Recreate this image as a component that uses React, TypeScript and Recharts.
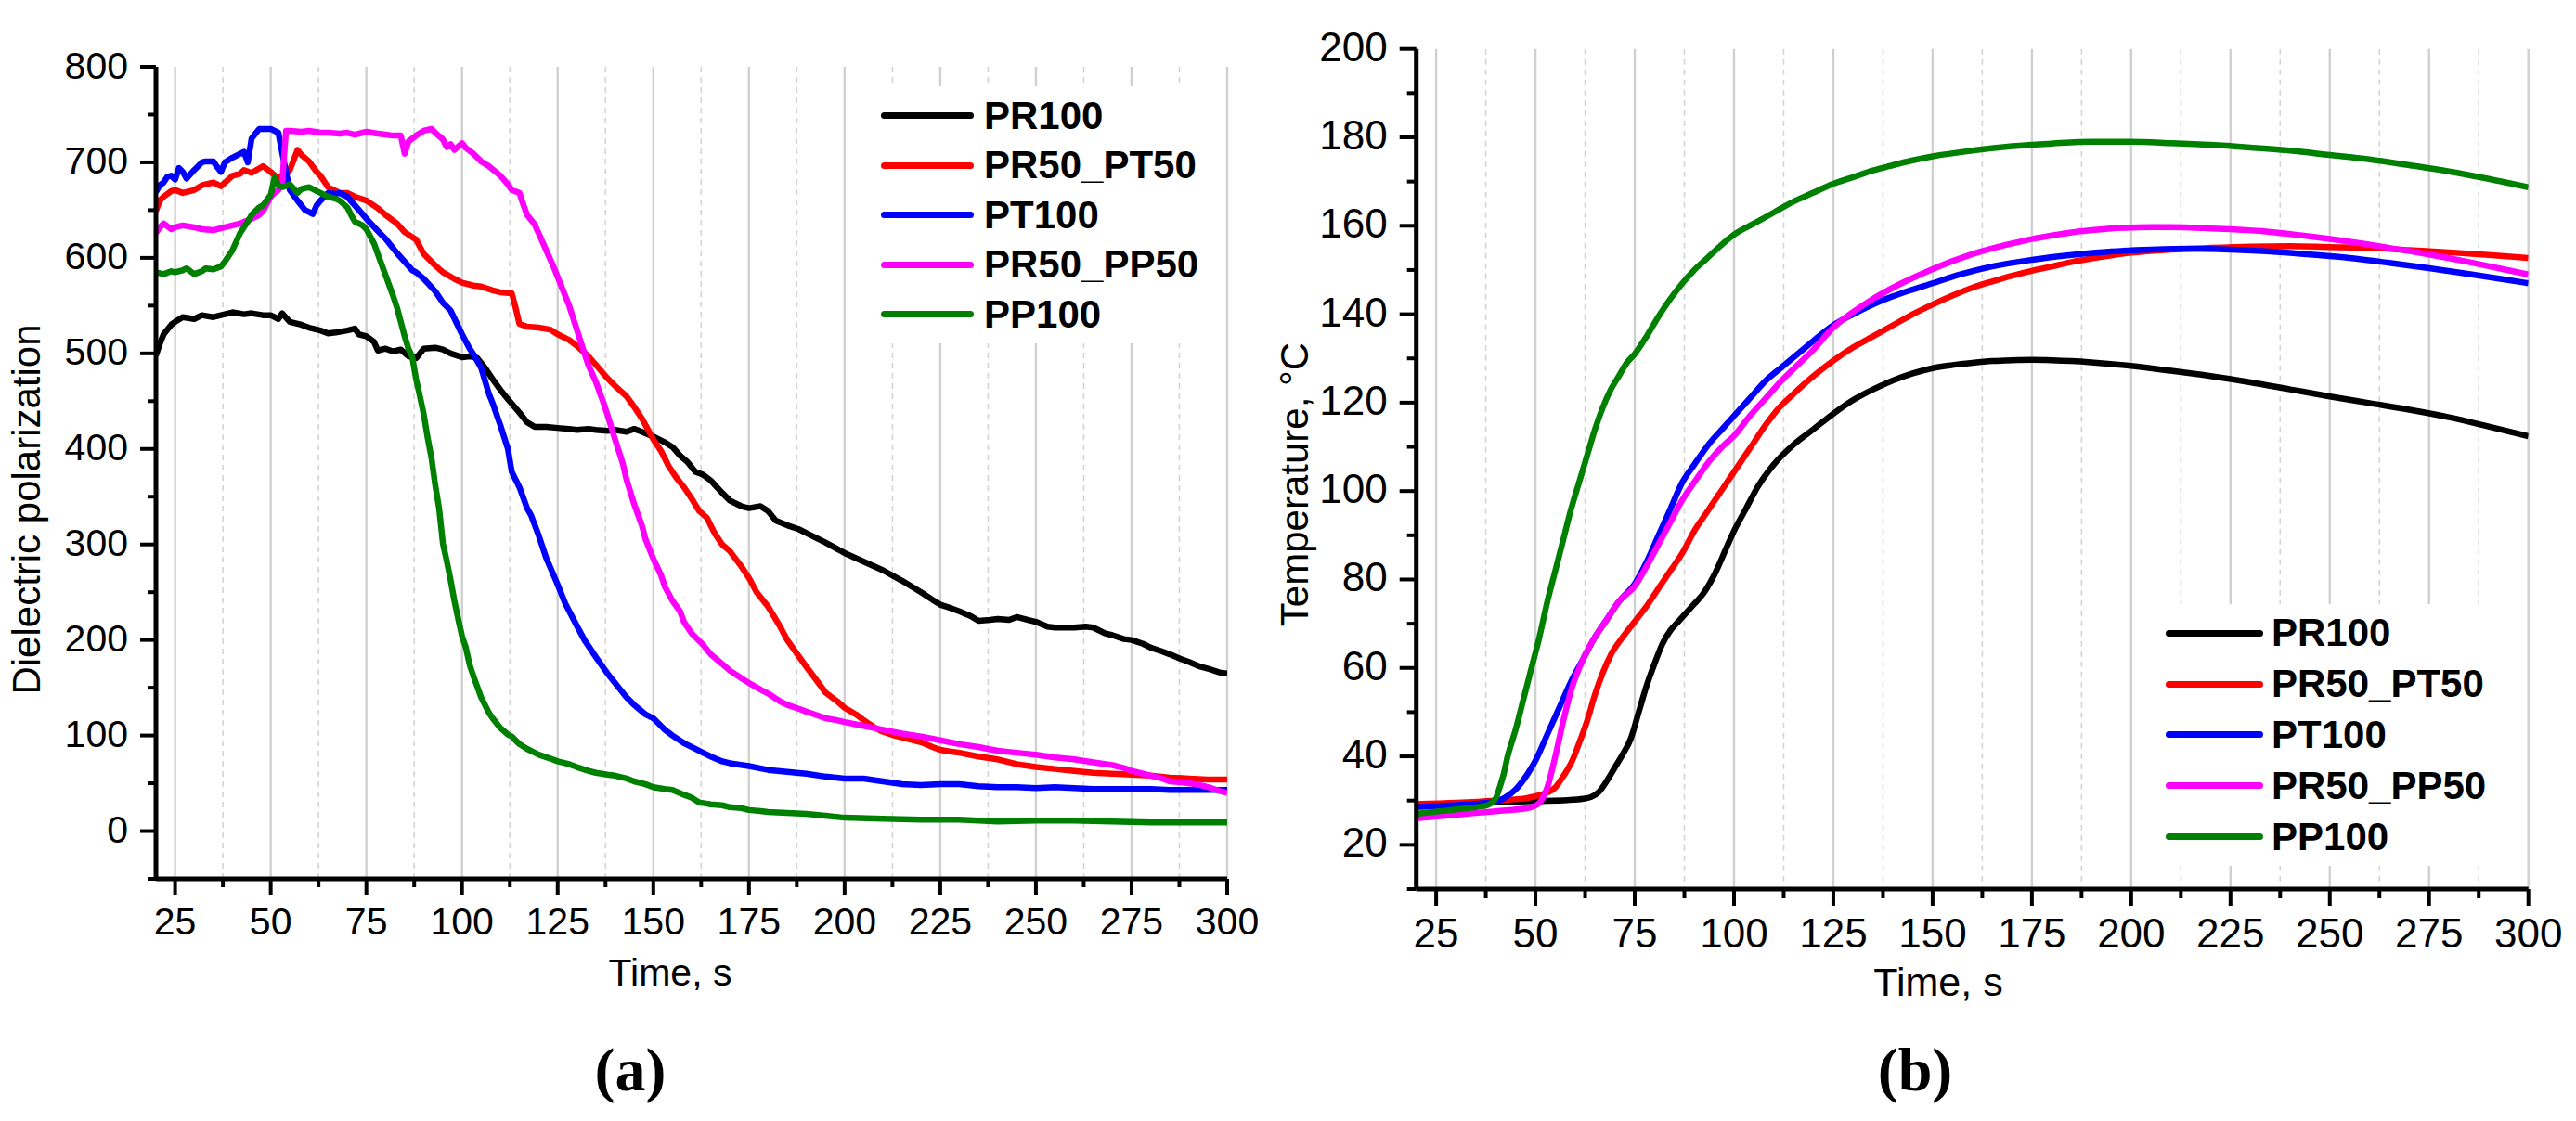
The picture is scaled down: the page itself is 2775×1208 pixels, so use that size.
import React from 'react';
import { LineChart, Line, XAxis, YAxis, CartesianGrid, Legend } from 'recharts';

// ---------- tick values ----------
const X_TICKS = [25, 37.5, 50, 62.5, 75, 87.5, 100, 112.5, 125, 137.5, 150, 162.5, 175, 187.5, 200, 212.5, 225, 237.5, 250, 262.5, 275, 287.5, 300];
const POL_TICKS = [-50, 0, 50, 100, 150, 200, 250, 300, 350, 400, 450, 500, 550, 600, 650, 700, 750, 800];
const TEMP_TICKS = [10, 20, 30, 40, 50, 60, 70, 80, 90, 100, 110, 120, 130, 140, 150, 160, 170, 180, 190, 200];

// ---------- series ----------
const SERIES_NAMES = ['PR100', 'PR50_PT50', 'PT100', 'PR50_PP50', 'PP100'];
const SERIES_COLORS = ['#000000', '#ff0000', '#0000ff', '#ff00ff', '#008000'];

// (a) dielectric polarization  [time s, value]
const POL_PR100: [number, number][] = [[20,498],[21,510],[22,520],[24,530],[25,533],[27,538],[30,536],[32,540],[35,538],[38,541],[40,543],[43,541],[45,542],[48,540],[50,540],[52,536],[53,542],[55,533],[58,530],[60,527],[63,524],[65,521],[67,522],[70,524],[72,526],[73,520],[75,518],[77,512],[78,503],[80,505],[82,502],[84,504],[86,497],[88,495],[90,505],[93,506],[95,504],[97,500],[100,496],[102,497],[104,495],[106,485],[108,473],[110,462],[112,452],[115,438],[117,428],[119,423],[122,423],[125,422],[128,421],[130,420],[133,421],[135,420],[138,419],[140,420],[143,418],[145,421],[147,418],[150,413],[153,407],[155,402],[157,393],[159,386],[161,376],[163,373],[165,367],[168,354],[170,346],[173,340],[175,338],[178,340],[180,335],[182,325],[185,320],[188,316],[190,312],[195,302],[200,291],[205,282],[210,273],[215,262],[220,250],[223,242],[225,237],[228,233],[230,230],[233,225],[235,220],[238,221],[240,222],[243,221],[245,224],[248,221],[250,219],[253,214],[255,213],[258,213],[260,213],[263,214],[265,213],[268,207],[270,205],[273,201],[275,200],[278,196],[280,192],[283,188],[285,185],[288,180],[290,177],[293,172],[295,170],[298,166],[300,165]];
const POL_PR50_PT50: [number, number][] = [[20,649],[21,660],[22,664],[24,670],[25,671],[27,668],[30,671],[32,676],[35,679],[37,675],[40,686],[42,688],[43,692],[45,689],[48,696],[50,690],[52,683],[53,686],[55,692],[57,713],[58,708],[60,701],[62,690],[63,686],[65,674],[68,668],[70,668],[72,664],[75,660],[78,652],[80,645],[83,636],[85,627],[88,619],[90,604],[93,592],[95,585],[98,578],[100,574],[103,571],[105,570],[108,566],[110,564],[113,563],[114,548],[115,531],[117,528],[120,527],[123,525],[125,520],[128,514],[130,508],[133,497],[135,488],[138,474],[140,466],[143,455],[145,444],[147,432],[150,410],[152,398],[154,382],[156,370],[158,360],[160,348],[162,335],[164,328],[166,312],[168,300],[170,293],[173,277],[175,265],[177,250],[180,235],[183,215],[185,200],[188,183],[190,172],[193,156],[195,145],[198,136],[200,129],[203,122],[205,116],[208,108],[210,104],[213,100],[215,98],[218,95],[220,93],[223,88],[225,85],[228,83],[230,82],[235,78],[240,75],[245,70],[250,67],[255,65],[260,63],[265,61],[270,60],[275,59],[280,58],[285,56],[290,55],[295,54],[300,54]];
const POL_PT100: [number, number][] = [[20,669],[21,676],[22,679],[23,685],[24,686],[25,682],[26,694],[27,690],[28,683],[30,692],[32,700],[33,701],[35,701],[36,695],[37,690],[38,700],[40,705],[42,709],[43,711],[44,700],[45,725],[46,730],[47,735],[49,735],[50,735],[52,731],[53,710],[54,690],[55,671],[57,660],[59,650],[61,646],[62,655],[63,660],[65,668],[67,667],[68,668],[70,664],[72,655],[75,641],[78,628],[80,620],[83,605],[85,596],[87,587],[88,585],[90,578],[93,565],[95,553],[97,545],[100,520],[102,505],[103,499],[105,485],[107,458],[108,448],[110,425],[112,400],[113,376],[115,360],[117,338],[118,331],[120,310],[122,286],[125,258],[127,238],[130,215],[132,200],[135,182],[138,165],[140,155],[143,140],[145,132],[148,122],[150,118],[153,106],[155,100],[158,92],[160,88],[163,82],[165,78],[168,73],[170,71],[175,68],[180,64],[185,62],[190,60],[195,57],[200,55],[205,55],[210,52],[215,49],[220,48],[225,49],[230,49],[235,47],[240,46],[245,46],[250,45],[255,46],[260,45],[265,44],[270,44],[275,44],[280,44],[285,43],[290,43],[295,43],[300,43]];
const POL_PR50_PP50: [number, number][] = [[20,626],[21,632],[22,636],[24,630],[25,632],[27,634],[30,632],[32,630],[35,629],[38,632],[40,634],[42,636],[45,641],[47,645],[48,649],[50,664],[51,668],[52,671],[53,679],[54,733],[55,733],[58,732],[60,733],[63,731],[65,731],[68,730],[70,731],[72,729],[75,732],[78,730],[80,729],[82,728],[84,728],[85,709],[86,722],[88,728],[90,733],[92,735],[93,731],[95,724],[96,716],[97,719],[98,713],[100,720],[101,715],[103,709],[105,701],[107,696],[110,686],[112,677],[113,671],[115,668],[116,656],[117,645],[119,635],[120,626],[122,608],[124,590],[125,580],[127,560],[128,550],[130,525],[132,500],[133,488],[135,470],[137,448],[138,436],[140,410],[142,385],[143,368],[145,342],[147,320],[148,305],[150,285],[152,268],[153,256],[155,241],[157,230],[158,219],[160,207],[163,195],[165,185],[168,175],[170,168],[173,160],[175,155],[178,148],[180,144],[183,136],[185,132],[188,128],[190,125],[193,121],[195,118],[198,116],[200,114],[205,110],[210,106],[215,102],[220,99],[225,95],[230,91],[235,88],[240,84],[245,82],[250,80],[255,77],[260,75],[265,72],[270,69],[273,66],[275,63],[278,60],[280,58],[283,55],[285,52],[288,51],[290,50],[293,48],[295,46],[298,42],[300,40]];
const POL_PP100: [number, number][] = [[20,585],[22,583],[24,586],[25,585],[27,587],[28,589],[30,583],[32,586],[33,589],[35,588],[37,591],[38,596],[40,608],[42,626],[44,638],[45,645],[47,653],[48,655],[50,666],[51,684],[52,676],[53,674],[55,677],[57,668],[58,672],[60,674],[62,670],[63,668],[65,664],[67,662],[68,660],[70,653],[71,645],[72,638],[74,634],[75,630],[77,615],[78,604],[80,582],[82,560],[83,548],[85,518],[86,505],[87,496],[88,473],[89,455],[90,436],[91,412],[92,391],[93,362],[94,338],[95,301],[96,283],[97,263],[98,241],[99,222],[100,204],[101,192],[102,174],[103,162],[104,151],[105,140],[106,132],[107,124],[108,118],[110,108],[112,101],[113,99],[115,91],[117,86],[120,80],[123,76],[125,73],[128,70],[130,67],[133,63],[135,61],[138,59],[140,58],[143,55],[145,52],[148,49],[150,46],[153,44],[155,43],[158,38],[160,35],[162,30],[165,28],[168,27],[170,25],[173,24],[175,22],[178,21],[180,20],[185,19],[190,18],[195,16],[200,14],[210,13],[220,12],[230,12],[240,10],[250,11],[260,11],[270,10],[280,9],[290,9],[300,9]];

// (b) temperature, °C  [time s, value]
const TEMP_PR100: [number, number][] = [[20,29],[30,29.3],[40,29.6],[50,29.9],[58,30.1],[62,30.4],[64,30.8],[66,32],[68,34.5],[70,37.5],[72,40.5],[74,44],[76,50],[78,56],[80,61],[82,65.5],[84,68.5],[86,70.5],[88,72.5],[90,74.5],[92,76.5],[95,81],[98,87],[100,91],[103,96],[106,101],[110,106],[115,110.5],[120,114],[125,117.5],[130,120.6],[135,123],[140,125],[145,126.6],[150,127.8],[155,128.5],[160,129],[165,129.4],[170,129.6],[175,129.7],[180,129.6],[185,129.4],[190,129.1],[200,128.3],[210,127.2],[220,126],[230,124.6],[240,123],[250,121.4],[260,119.9],[270,118.4],[280,116.7],[290,114.6],[300,112.4]];
const TEMP_PR50_PT50: [number, number][] = [[20,29.2],[30,29.5],[40,30],[48,30.6],[52,31.5],[55,33],[57,35.5],[59,38.5],[61,43],[63,48],[65,54],[67,59],[69,63],[72,67],[75,70.5],[78,74],[81,78],[84,82],[87,86],[90,91],[93,95],[96,99],[99,103],[102,107],[105,111],[108,115],[111,118.5],[115,122],[120,126],[125,129.5],[130,132.5],[135,135],[140,137.5],[145,140],[150,142.2],[155,144.2],[160,146],[165,147.4],[170,148.7],[175,149.8],[180,150.8],[185,151.8],[190,152.6],[195,153.3],[200,153.9],[210,154.6],[220,155],[230,155.3],[240,155.4],[250,155.2],[260,155],[270,154.5],[280,154],[290,153.4],[300,152.7]];
const TEMP_PT100: [number, number][] = [[20,28.5],[30,29],[38,29.5],[42,30.5],[45,32.5],[48,36],[50,39],[53,45],[56,51],[59,57],[62,62],[65,67],[68,71],[71,75],[75,79],[78,84],[81,90],[84,96],[87,102],[90,106],[94,111],[97,114],[100,117],[104,121],[108,125],[112,128],[116,131],[120,134],[125,137.5],[130,140],[137,143],[143,145],[150,147],[157,149],[165,150.8],[175,152.3],[185,153.4],[195,154.2],[205,154.6],[215,154.8],[225,154.6],[235,154.2],[245,153.5],[255,152.7],[265,151.6],[275,150.4],[285,149.1],[293,148],[300,147]];
const TEMP_PR50_PP50: [number, number][] = [[20,26],[30,26.8],[40,27.6],[48,28.3],[51,29.5],[53,33],[55,40],[57,48],[59,55],[62,62],[65,67],[68,71],[71,75],[75,78.5],[78,83],[81,88],[84,93],[87,98],[90,102],[94,107],[97,110],[100,112.5],[104,117],[108,121],[112,125],[116,128.5],[120,132],[125,137],[130,140.5],[135,143.5],[140,146],[145,148.2],[150,150.2],[155,152],[160,153.6],[165,154.9],[170,156],[175,157],[180,157.8],[185,158.5],[190,159],[195,159.4],[200,159.6],[205,159.7],[210,159.7],[215,159.6],[220,159.4],[225,159.2],[235,158.6],[245,157.6],[255,156.4],[265,155],[275,153.5],[285,151.8],[293,150.3],[300,149]];
const TEMP_PP100: [number, number][] = [[20,27],[25,27.5],[30,28],[35,28.5],[38,29],[40,30.5],[41,33],[42,36],[43,40],[45,46],[47,53],[49,60],[51,67],[53,75],[55,82],[57,89],[59,96],[61,102],[63,108],[65,114],[67,119],[69,123],[71,126],[73,129],[75,131],[78,135],[81,139.5],[84,143.5],[87,147],[90,150],[93,152.5],[96,155],[100,158],[105,160.5],[110,163],[115,165.5],[120,167.5],[125,169.5],[130,171],[135,172.5],[140,173.7],[145,174.8],[150,175.7],[160,177],[170,178],[180,178.6],[190,179],[200,179],[210,178.7],[220,178.3],[230,177.7],[240,177],[250,176],[260,175],[270,173.7],[280,172.3],[290,170.6],[300,168.7]];

const POL_SERIES = [POL_PR100, POL_PR50_PT50, POL_PT100, POL_PR50_PP50, POL_PP100];
const TEMP_SERIES = [TEMP_PR100, TEMP_PR50_PT50, TEMP_PT100, TEMP_PR50_PP50, TEMP_PP100];

const toRows = (pairs: [number, number][]) => pairs.map(([t, v]) => ({ t, v }));

const SANS = 'Liberation Sans, Arial, sans-serif';
const SERIF = 'Liberation Serif, Times New Roman, serif';

const B_LEFT = 1360; // page x of panel (b) container

const isMajor = (v: number, step: number) => Math.abs(v / step - Math.round(v / step)) < 1e-6;

const makeXTick = (step: number, majorLen: number, minorLen: number, fontSize: number, dy: number) => (p: any) => {
  const { x, y, payload } = p;
  const major = isMajor(payload.value, step);
  return (
    <g>
      <line x1={x} x2={x} y1={y} y2={y + (major ? majorLen : minorLen)} stroke="#000" strokeWidth={4} />
      {major && (
        <text x={x} y={y + dy} textAnchor="middle" fontSize={fontSize} fontFamily={SANS} fill="#000">
          {payload.value}
        </text>
      )}
    </g>
  );
};

const makeYTick = (step: number, majorLen: number, minorLen: number, fontSize: number, gap: number, dy: number) => (p: any) => {
  const { x, y, payload } = p;
  const major = isMajor(payload.value, step);
  return (
    <g>
      <line x1={x - (major ? majorLen : minorLen)} x2={x} y1={y} y2={y} stroke="#000" strokeWidth={4} />
      {major && (
        <text x={x - gap} y={y + dy} textAnchor="end" fontSize={fontSize} fontFamily={SANS} fill="#000">
          {payload.value}
        </text>
      )}
    </g>
  );
};

const gridLine = (p: any) => {
  const { x1, y1, x2, y2, index } = p;
  const major = (index ?? 0) % 2 === 0;
  return (
    <line
      key={`g-${index}-${x1}`}
      x1={x1}
      y1={y1}
      x2={x2}
      y2={y2}
      stroke={major ? '#d0d0d0' : '#d4d4d4'}
      strokeWidth={major ? 2.4 : 1.6}
      strokeDasharray={major ? undefined : '6 5'}
    />
  );
};

const makeLegend = (padLeft: number, lineLen: number, gap: number, rowH: number, padTop: number) => (props: any) => {
  const items = [...(props.payload || [])].sort(
    (a: any, b: any) => SERIES_NAMES.indexOf(a.value) - SERIES_NAMES.indexOf(b.value)
  );
  return (
    <div style={{ paddingTop: padTop }}>
      {items.map((it: any) => (
        <div key={it.value} style={{ height: rowH, display: 'flex', alignItems: 'center' }}>
          <div style={{ marginLeft: padLeft, width: lineLen, height: 7, borderRadius: 4, background: it.color }} />
          <span style={{ marginLeft: gap, fontWeight: 'bold', fontSize: 42, fontFamily: SANS, lineHeight: 1, color: '#000' }}>
            {it.value}
          </span>
        </div>
      ))}
    </div>
  );
};

const AXIS_LINE = { stroke: '#000', strokeWidth: 5 };

const PanelA = () => (
  <LineChart width={1380} height={1208} margin={{ top: 72, right: 58, bottom: 0, left: 0 }}>
    <CartesianGrid xAxisId="x" yAxisId="y" horizontal={false} vertical={gridLine} fill="none" />
    <XAxis
      xAxisId="x"
      dataKey="t"
      type="number"
      domain={[20, 300]}
      allowDataOverflow
      ticks={X_TICKS}
      interval={0}
      height={261}
      tickSize={0}
      tickMargin={0}
      tickLine={false}
      axisLine={AXIS_LINE}
      tick={makeXTick(25, 17, 9, 41, 60)}
      label={() => (
        <text x={722} y={1062} textAnchor="middle" fontSize={41} fontFamily={SANS} fill="#000">
          Time, s
        </text>
      )}
    />
    <XAxis xAxisId="top" orientation="top" type="number" domain={[20, 300]} height={0} tick={false} tickLine={false} axisLine={AXIS_LINE} />
    <YAxis
      yAxisId="y"
      type="number"
      domain={[-50, 800]}
      allowDataOverflow
      ticks={POL_TICKS}
      interval={0}
      width={168}
      tickSize={0}
      tickMargin={0}
      tickLine={false}
      axisLine={AXIS_LINE}
      tick={makeYTick(100, 17, 9, 41, 30, 12.5)}
      label={() => (
        <text x={43} y={549} transform="rotate(-90, 43, 549)" textAnchor="middle" fontSize={42} fontFamily={SANS} fill="#000">
          Dielectric polarization
        </text>
      )}
    />
    <YAxis yAxisId="right" orientation="right" type="number" domain={[-50, 800]} width={0} tick={false} tickLine={false} axisLine={AXIS_LINE} />
    {POL_SERIES.map((s, i) => (
      <Line
        key={SERIES_NAMES[i]}
        xAxisId="x"
        yAxisId="y"
        data={toRows(s)}
        dataKey="v"
        name={SERIES_NAMES[i]}
        type="linear"
        stroke={SERIES_COLORS[i]}
        strokeWidth={6.5}
        strokeLinejoin="round"
        dot={false}
        activeDot={false}
        isAnimationActive={false}
      />
    ))}
    <Legend
      layout="vertical"
      align="center"
      verticalAlign="middle"
      wrapperStyle={{ left: 935, top: 93, width: 384, height: 277, background: '#fff', margin: 0 }}
      content={makeLegend(14, 100, 11, 53.5, 5)}
    />
  </LineChart>
);

const PanelB = () => (
  <LineChart width={2775 - B_LEFT} height={1208} margin={{ top: 52.7, right: 51.3, bottom: 0, left: 0 }}>
    <CartesianGrid xAxisId="x" yAxisId="y" horizontal={false} vertical={gridLine} fill="none" />
    <XAxis
      xAxisId="x"
      dataKey="t"
      type="number"
      domain={[20, 300]}
      allowDataOverflow
      ticks={X_TICKS}
      interval={0}
      height={250}
      tickSize={0}
      tickMargin={0}
      tickLine={false}
      axisLine={AXIS_LINE}
      tick={makeXTick(25, 18, 10, 44, 63)}
      label={() => (
        <text x={2088 - B_LEFT} y={1073} textAnchor="middle" fontSize={43} fontFamily={SANS} fill="#000">
          Time, s
        </text>
      )}
    />
    <XAxis xAxisId="top" orientation="top" type="number" domain={[20, 300]} height={0} tick={false} tickLine={false} axisLine={AXIS_LINE} />
    <YAxis
      yAxisId="y"
      type="number"
      domain={[10, 200]}
      allowDataOverflow
      ticks={TEMP_TICKS}
      interval={0}
      width={1525.7 - B_LEFT}
      tickSize={0}
      tickMargin={0}
      tickLine={false}
      axisLine={AXIS_LINE}
      tick={makeYTick(20, 18, 10, 44, 31, 13)}
      label={() => (
        <text
          x={1409 - B_LEFT}
          y={522}
          transform={`rotate(-90, ${1409 - B_LEFT}, 522)`}
          textAnchor="middle"
          fontSize={42}
          fontFamily={SANS}
          fill="#000"
        >
          Temperature, °C
        </text>
      )}
    />
    <YAxis yAxisId="right" orientation="right" type="number" domain={[10, 200]} width={0} tick={false} tickLine={false} axisLine={AXIS_LINE} />
    {TEMP_SERIES.map((s, i) => (
      <Line
        key={SERIES_NAMES[i]}
        xAxisId="x"
        yAxisId="y"
        data={toRows(s)}
        dataKey="v"
        name={SERIES_NAMES[i]}
        type="monotone"
        stroke={SERIES_COLORS[i]}
        strokeWidth={6.5}
        strokeLinejoin="round"
        dot={false}
        activeDot={false}
        isAnimationActive={false}
      />
    ))}
    <Legend
      layout="vertical"
      align="center"
      verticalAlign="middle"
      wrapperStyle={{ left: 2320 - B_LEFT, top: 651, width: 400, height: 282, background: '#fff', margin: 0 }}
      content={makeLegend(13, 105, 9, 54.8, 4)}
    />
  </LineChart>
);

export default function App() {
  return (
    <div style={{ position: 'absolute', left: 0, top: 0, width: 2775, height: 1208, background: '#fff', overflow: 'hidden' }}>
      <div style={{ position: 'absolute', left: 0, top: 0 }}>
        <PanelA />
      </div>
      <div style={{ position: 'absolute', left: B_LEFT, top: 0 }}>
        <PanelB />
      </div>
      <svg width={2775} height={1208} style={{ position: 'absolute', left: 0, top: 0, pointerEvents: 'none' }}>
        <text x={679} y={1175} textAnchor="middle" fontSize={66} fontWeight="bold" fontFamily={SERIF} fill="#000">
          (a)
        </text>
        <text x={2063} y={1175} textAnchor="middle" fontSize={66} fontWeight="bold" fontFamily={SERIF} fill="#000">
          (b)
        </text>
      </svg>
    </div>
  );
}
